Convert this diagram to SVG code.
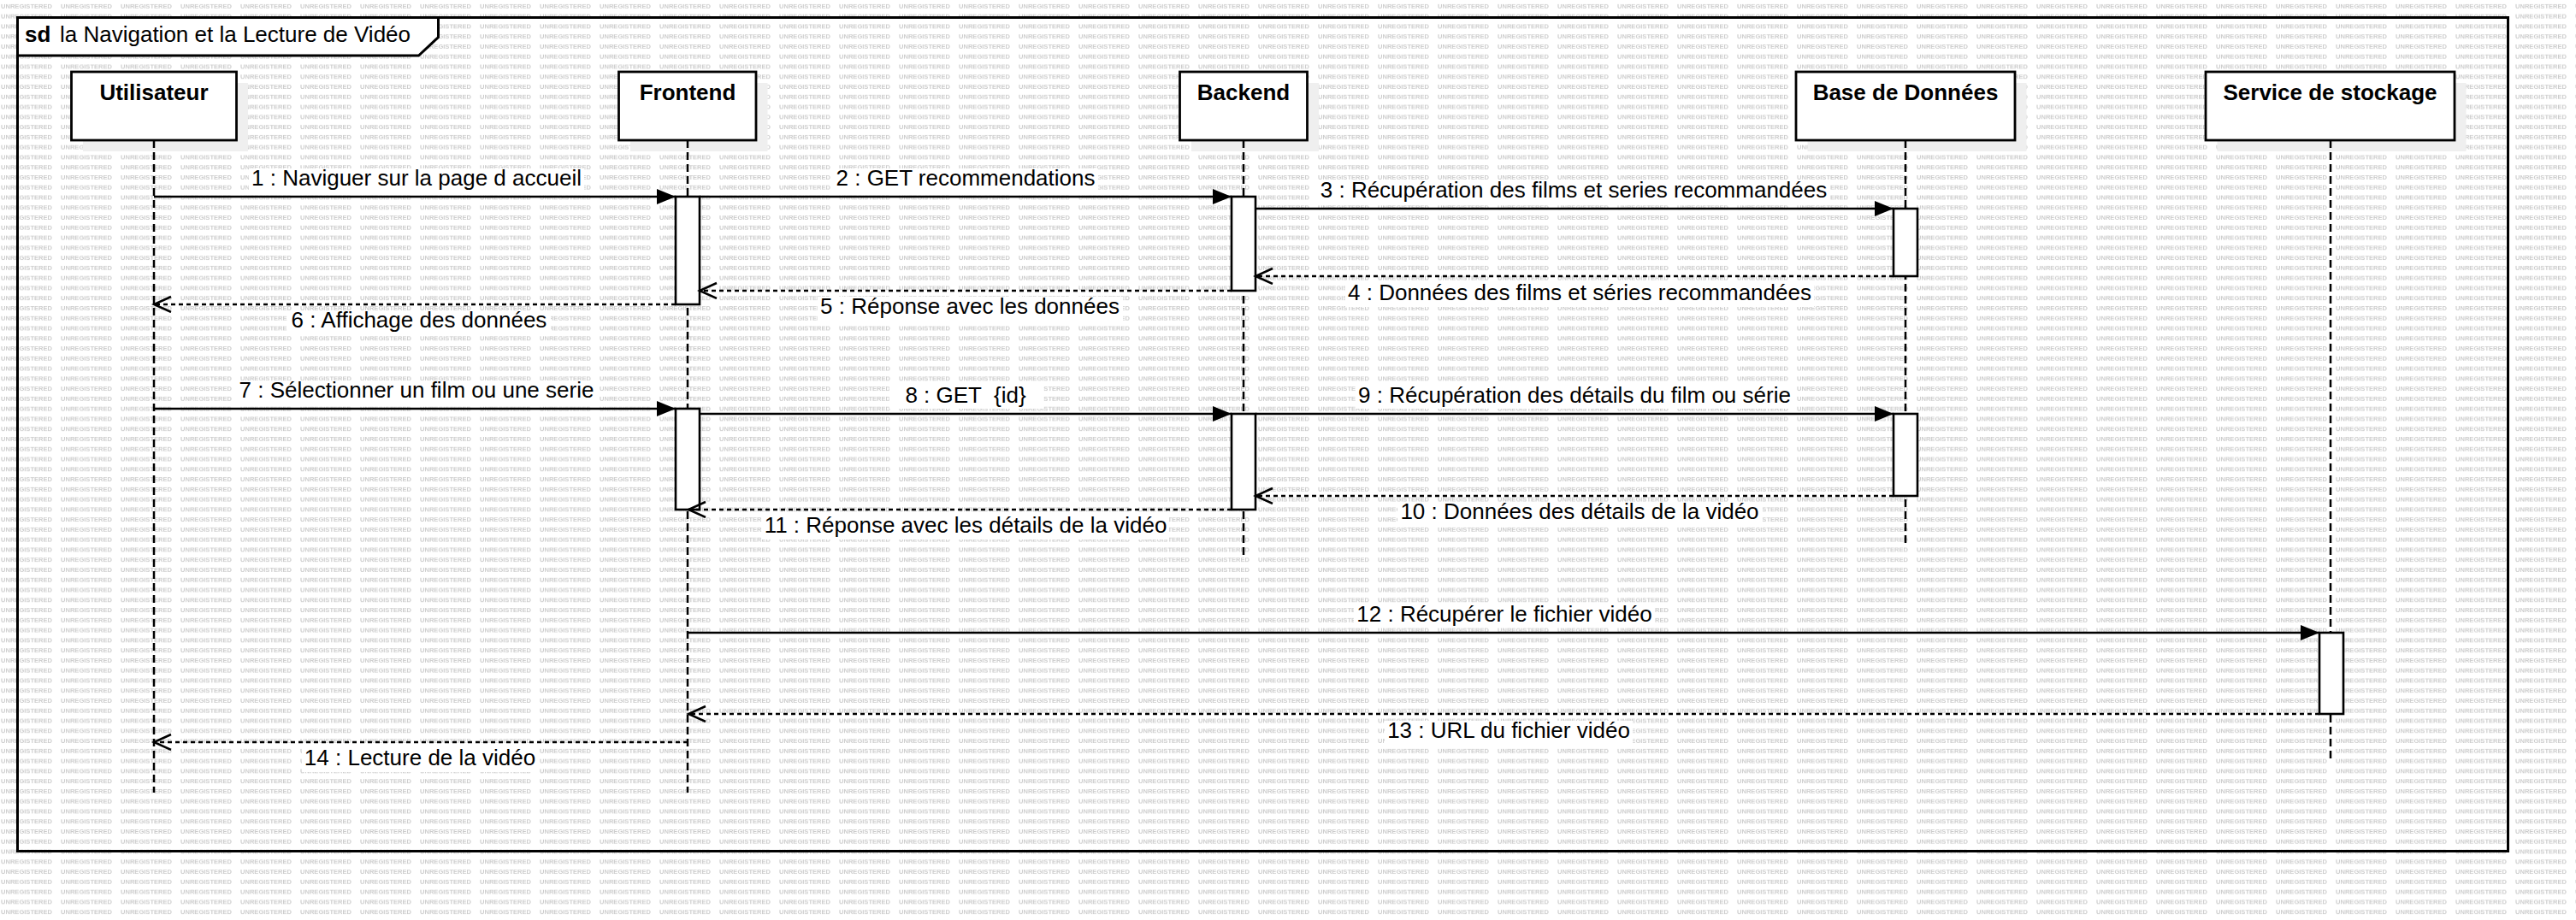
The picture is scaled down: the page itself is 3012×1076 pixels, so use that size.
<svg xmlns="http://www.w3.org/2000/svg" width="3012" height="1076" viewBox="0 0 3012 1076">
<defs>
<pattern id="wm" patternUnits="userSpaceOnUse" x="0" y="0" width="70" height="11.77">
<text x="1" y="10.3" font-family="Liberation Sans, Arial, sans-serif" font-size="7.5" font-weight="bold" fill="#cdcdcd" textLength="60" lengthAdjust="spacingAndGlyphs">UNREGISTERED</text>
</pattern>
<marker id="filled" markerUnits="userSpaceOnUse" markerWidth="24" markerHeight="20" refX="22" refY="9" orient="auto">
<path d="M0,0 L22,9 L0,18 Z" fill="#000"/>
</marker>
<marker id="open" markerUnits="userSpaceOnUse" markerWidth="24" markerHeight="22" refX="21" refY="10" orient="auto">
<path d="M1,1 L21,10 L1,19" fill="none" stroke="#000" stroke-width="2.5"/>
</marker>
</defs>
<style>
.head{fill:#fff;stroke:#000;stroke-width:2.8}
.shadow{fill:#efefef;stroke:none}
.htext{font-family:"Liberation Sans",Arial,sans-serif;font-size:26px;font-weight:bold;text-anchor:middle;fill:#000}
.life{stroke:#000;stroke-width:2.5;stroke-dasharray:9 5;fill:none}
.bar{fill:#fff;stroke:#000;stroke-width:2.6}
.msg{stroke:#000;stroke-width:2.6;fill:none;marker-end:url(#filled)}
.ret{stroke:#000;stroke-width:2.5;fill:none;stroke-dasharray:5 4;marker-end:url(#open)}
.lbl{font-family:"Liberation Sans",Arial,sans-serif;font-size:26px;text-anchor:middle;fill:#000;white-space:pre}
.lbg{fill:#fff;stroke:none}
.frame{fill:none;stroke:#000;stroke-width:3}
</style>
<rect x="0" y="0" width="3012" height="1076" fill="#fff"/>
<rect x="0" y="0" width="3012" height="1076" fill="url(#wm)"/>

<g id="frame">
<rect class="frame" x="20.5" y="20.5" width="2912" height="975"/>
<path d="M20.5,20.5 H512.5 V43.5 L489.5,65 H20.5 Z" fill="#fff" stroke="#000" stroke-width="3"/>
<text x="29" y="49" font-family="Liberation Sans, Arial, sans-serif" font-size="26" font-weight="bold">sd</text>
<text x="70" y="49" font-family="Liberation Sans, Arial, sans-serif" font-size="26">la Navigation et la Lecture de Vidéo</text>
</g>

<g id="utilisateur">
<rect class="shadow" x="97" y="97" width="193" height="80"/>
<rect class="head" x="83.5" y="84" width="193" height="80"/>
<text class="htext" x="180" y="117">Utilisateur</text>
<line class="life" x1="180" y1="164" x2="180" y2="927"/>
</g>

<g id="frontend">
<rect class="shadow" x="737" y="97" width="160.5" height="80"/>
<rect class="head" x="723.5" y="84" width="160.5" height="80"/>
<text class="htext" x="804" y="117">Frontend</text>
<line class="life" x1="804" y1="164" x2="804" y2="927"/>
<rect class="bar" x="790" y="230" width="28" height="126"/>
<rect class="bar" x="790" y="478" width="28" height="118"/>
</g>

<g id="backend">
<rect class="shadow" x="1393" y="97" width="149" height="80"/>
<rect class="head" x="1379.5" y="84" width="149" height="80"/>
<text class="htext" x="1454" y="117">Backend</text>
<line class="life" x1="1454" y1="164" x2="1454" y2="650"/>
<rect class="bar" x="1440" y="230" width="28" height="110"/>
<rect class="bar" x="1440" y="484" width="28" height="112"/>
</g>

<g id="base-de-donnees">
<rect class="shadow" x="2113.5" y="97" width="256" height="80"/>
<rect class="head" x="2100" y="84" width="256" height="80"/>
<text class="htext" x="2228" y="117">Base de Données</text>
<line class="life" x1="2228" y1="164" x2="2228" y2="640"/>
<rect class="bar" x="2214" y="244" width="28" height="79"/>
<rect class="bar" x="2214" y="484" width="28" height="96"/>
</g>

<g id="service-de-stockage">
<rect class="shadow" x="2592.5" y="97" width="291" height="80"/>
<rect class="head" x="2579" y="84" width="291" height="80"/>
<text class="htext" x="2724.5" y="117">Service de stockage</text>
<line class="life" x1="2725" y1="164" x2="2725" y2="891"/>
<rect class="bar" x="2712" y="740" width="28" height="95"/>
</g>

<g id="connectors">
<line class="msg" x1="180" y1="230" x2="790" y2="230"/>
<line class="msg" x1="818" y1="230" x2="1440" y2="230"/>
<line class="msg" x1="1468" y1="244" x2="2214" y2="244"/>
<line class="ret" x1="2214" y1="323" x2="1468" y2="323"/>
<line class="ret" x1="1440" y1="340" x2="818" y2="340"/>
<line class="ret" x1="790" y1="356" x2="180" y2="356"/>
<line class="msg" x1="180" y1="478" x2="790" y2="478"/>
<line class="msg" x1="818" y1="484" x2="1440" y2="484"/>
<line class="msg" x1="1468" y1="484" x2="2214" y2="484"/>
<line class="ret" x1="2214" y1="580" x2="1468" y2="580"/>
<line class="ret" x1="1440" y1="596" x2="805" y2="596"/>
<line class="msg" x1="805" y1="740" x2="2712" y2="740"/>
<line class="ret" x1="2712" y1="835" x2="805" y2="835"/>
<line class="ret" x1="804" y1="868" x2="180" y2="868"/>
</g>

<g id="labels">
<rect class="lbg" x="291" y="197" width="392" height="27"/>
<text class="lbl" x="487" y="217">1 : Naviguer sur la page d accueil</text>
<rect class="lbg" x="974" y="197" width="310" height="27"/>
<text class="lbl" x="1129" y="217">2 : GET recommendations</text>
<rect class="lbg" x="1539" y="211" width="601" height="27"/>
<text class="lbl" x="1840" y="231">3 : Récupération des films et series recommandées</text>
<rect class="lbg" x="1573" y="331" width="548" height="28"/>
<text class="lbl" x="1847" y="351">4 : Données des films et séries recommandées</text>
<rect class="lbg" x="956" y="347" width="357" height="28"/>
<text class="lbl" x="1134" y="367">5 : Réponse avec les données</text>
<rect class="lbg" x="336" y="363" width="308" height="28"/>
<text class="lbl" x="490" y="383">6 : Affichage des données</text>
<rect class="lbg" x="277" y="445" width="421" height="27"/>
<text class="lbl" x="487" y="465">7 : Sélectionner un film ou une serie</text>
<rect class="lbg" x="1040" y="451" width="180" height="27"/>
<text class="lbl" x="1129" y="471">8 : GET  {id}</text>
<rect class="lbg" x="1585" y="451" width="513" height="27"/>
<text class="lbl" x="1841" y="471">9 : Récupération des détails du film ou série</text>
<rect class="lbg" x="1634" y="587" width="427" height="28"/>
<text class="lbl" x="1847" y="607">10 : Données des détails de la vidéo</text>
<rect class="lbg" x="891" y="603" width="476" height="28"/>
<text class="lbl" x="1129" y="623">11 : Réponse avec les détails de la vidéo</text>
<rect class="lbg" x="1583" y="707" width="352" height="27"/>
<text class="lbl" x="1759" y="727">12 : Récupérer le fichier vidéo</text>
<rect class="lbg" x="1619" y="843" width="290" height="28"/>
<text class="lbl" x="1764" y="863">13 : URL du fichier vidéo</text>
<rect class="lbg" x="353" y="875" width="276" height="28"/>
<text class="lbl" x="491" y="895">14 : Lecture de la vidéo</text>
</g>
</svg>
